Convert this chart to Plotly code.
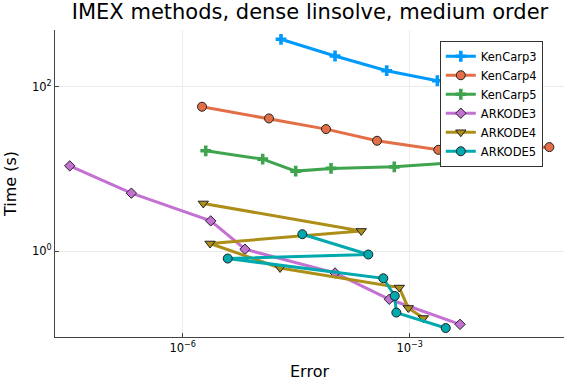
import plotly.graph_objects as go

# log10 values
kc3_x = [-4.701, -3.987, -3.304, -2.635]
kc3_y = [2.577, 2.374, 2.195, 2.073]
kc4_x = [-5.745, -4.860, -4.106, -3.432, -2.622, -1.816, -1.155]
kc4_y = [1.757, 1.615, 1.485, 1.343, 1.233, 1.233, 1.266]
kc5_x = [-5.696, -4.943, -4.507, -4.040, -3.204, -2.181]
kc5_y = [1.221, 1.120, 0.974, 1.007, 1.026, 1.092]
ark3_x = [-7.493, -6.679, -5.630, -5.177, -3.987, -3.270, -2.335]
ark3_y = [1.038, 0.706, 0.369, 0.024, -0.264, -0.584, -0.889]
ark4_x = [-5.728, -3.640, -5.639, -4.714, -3.138, -3.019, -2.820]
ark4_y = [0.581, 0.247, 0.094, -0.203, -0.442, -0.690, -0.812]
ark5_x = [-4.419, -3.547, -5.405, -3.349, -3.198, -3.177, -2.524]
ark5_y = [0.207, -0.040, -0.089, -0.329, -0.544, -0.746, -0.934]

names = ["KenCarp3", "KenCarp4", "KenCarp5", "ARKODE3", "ARKODE4", "ARKODE5"]
colors = ["#009AFA", "#E36F47", "#3EA44E", "#C371D2", "#AC8E18", "#00A9AD"]
symbols = ["cross", "circle", "cross", "diamond", "triangle-down", "circle"]
sizes = [9, 9, 9, 8, 9, 9]
series = [(kc3_x, kc3_y), (kc4_x, kc4_y), (kc5_x, kc5_y),
          (ark3_x, ark3_y), (ark4_x, ark4_y), (ark5_x, ark5_y)]

fig = go.Figure()
for (xs, ys), n, c, s, sz in zip(series, names, colors, symbols, sizes):
    outline = dict(width=0, color=c) if s == "cross" else dict(width=1, color="#222222")
    fig.add_trace(go.Scatter(
        x=[10 ** v for v in xs], y=[10 ** v for v in ys], name=n,
        mode="lines+markers",
        line=dict(color=c, width=3),
        marker=dict(symbol=s, size=sz, color=c, line=outline),
    ))

fig.update_layout(
    width=576, height=384,
    margin=dict(l=55, r=12, t=30, b=47, autoexpand=False),
    paper_bgcolor="white", plot_bgcolor="white",
    font=dict(family="DejaVu Sans", size=11, color="black"),
    title=dict(text="IMEX methods, dense linsolve, medium order",
               x=310 / 576, xanchor="center", y=1 - 12 / 384, yanchor="middle",
               font=dict(size=21), automargin=False),
    legend=dict(x=0.756, y=0.965, xanchor="left", yanchor="top",
                bordercolor="#333333", borderwidth=1, bgcolor="white",
                font=dict(size=11.5), tracegroupgap=0, itemwidth=30),
    showlegend=True,
)
fig.update_xaxes(
    type="log", range=[-7.688, -0.961], automargin=False,
    tickvals=[1e-6, 1e-3], ticktext=["10<sup>−6</sup>", "10<sup>−3</sup>"],
    showgrid=True, gridcolor="#ebebeb", gridwidth=1,
    showline=True, linecolor="#444444", linewidth=1,
    ticks="inside", ticklen=4, tickcolor="#444444",
    zeroline=False, mirror=False,
    title=dict(text="Error", font=dict(size=16), standoff=12),
    tickfont=dict(size=11.5),
)
fig.update_yaxes(
    type="log", range=[-1.043, 2.690], automargin=False,
    tickvals=[1, 100], ticktext=["10<sup>0</sup>", "10<sup>2</sup>"],
    showgrid=True, gridcolor="#ebebeb", gridwidth=1,
    showline=True, linecolor="#444444", linewidth=1,
    ticks="inside", ticklen=4, tickcolor="#444444",
    zeroline=False, mirror=False,
    title=dict(text="Time (s)", font=dict(size=16), standoff=11),
    tickfont=dict(size=11.5),
)
fig.write_html("out.html", config={"displayModeBar": False},
               post_script="document.body.style.margin='0px';document.body.style.padding='0px';")
